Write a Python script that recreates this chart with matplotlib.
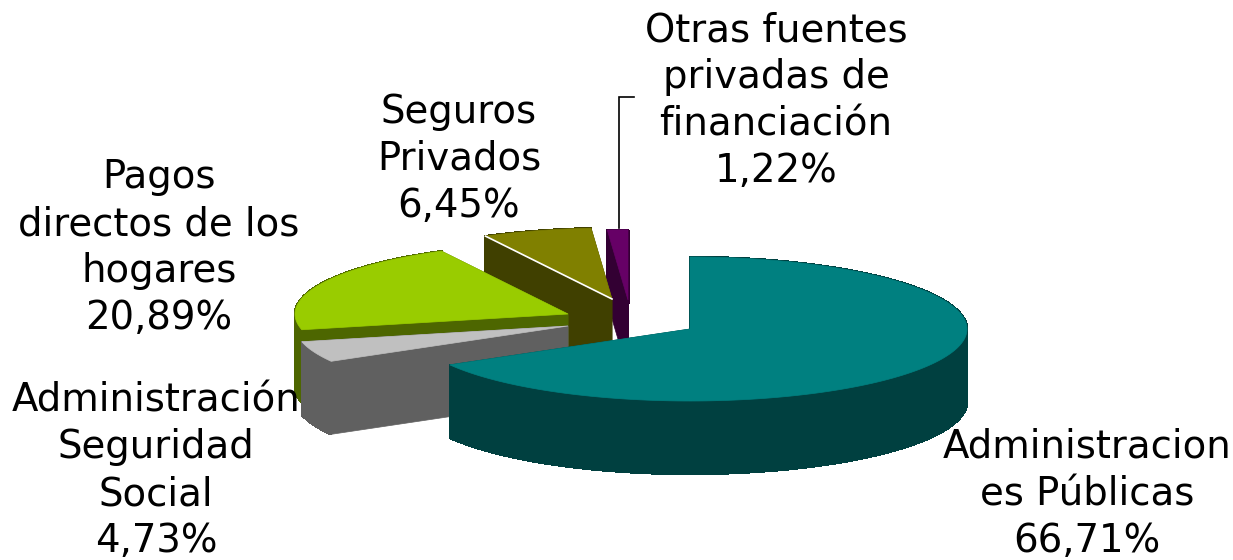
import numpy as np
import matplotlib
matplotlib.use('Agg')
import matplotlib.pyplot as plt
from matplotlib.collections import PolyCollection
from matplotlib.patches import Polygon

# slices in clockwise order from the top of the pie
shares = [66.71, 4.73, 20.89, 6.45, 1.22]
label_lines = [
    ['Administracion', 'es Públicas', '66,71%'],
    ['Administración', 'Seguridad', 'Social', '4,73%'],
    ['Pagos', 'directos de los', 'hogares', '20,89%'],
    ['Seguros', 'Privados', '6,45%'],
    ['Otras fuentes', 'privadas de', 'financiación', '1,22%'],
]

top_colors = ['#008080', '#c0c0c0', '#99cc00', '#808000', '#660066']
side_colors = ['#004040', '#606060', '#4d6600', '#404000', '#330033']
tips = [(690, 329), (568, 326), (568, 314), (612, 299), (628, 300)]
radii = [277, 273, 273, 273, 270]
label_x = [1087, 156, 159, 459, 776]
label_y = [447, 400, 177, 112, 30]

RY_RATIO = 72 / 277
DEPTH = 73
LINE_H = 47


def rim(tip, rx, a0, a1):
    t = np.radians(np.linspace(a0, a1, 160))
    return np.column_stack((tip[0] + rx * np.cos(t), tip[1] - rx * RY_RATIO * np.sin(t)))


fig = plt.figure(figsize=(12.33, 5.6), dpi=100)
ax = fig.add_axes([0, 0, 1, 1])
ax.set_xlim(0, 1233)
ax.set_ylim(560, 0)
ax.axis('off')

# start angle of each slice, math convention, going clockwise from 90
ends = 90 - 3.6 * np.cumsum(shares)
starts = np.concatenate(([90], ends[:-1]))

# back slices first so the front ones cover them
for i in [4, 3, 2, 1, 0]:
    tip = np.array(tips[i], dtype=float)
    arc = rim(tip, radii[i], starts[i], ends[i])
    z = 10 - 2 * i

    # cut faces
    for edge in (arc[0], arc[-1]):
        face = np.array([tip, edge, edge + [0, DEPTH], tip + [0, DEPTH]])
        ax.add_patch(Polygon(face, closed=True, fc=side_colors[i], ec=side_colors[i],
                             lw=0.5, zorder=z))
    # outer wall, one quad per arc step so it doesn't twist at the sides
    quads = [[arc[k], arc[k + 1], arc[k + 1] + [0, DEPTH], arc[k] + [0, DEPTH]]
             for k in range(len(arc) - 1)]
    ax.add_collection(PolyCollection(quads, facecolors=side_colors[i], edgecolors=side_colors[i],
                                     linewidths=1, antialiaseds=False, zorder=z))
    # top
    top = np.vstack(([tip], arc))
    ax.add_patch(Polygon(top, closed=True, fc=top_colors[i], ec=top_colors[i],
                         lw=0.5, zorder=z + 0.5))

# white sliver along the cut edge of the Seguros slice
seg_left = rim(np.array(tips[3], dtype=float), radii[3], starts[3], starts[3])[0]
ax.plot([seg_left[0], tips[3][0]], [seg_left[1], tips[3][1]], color='white', lw=1.2, zorder=4.6)

# leader line for the smallest slice
ax.plot([634, 618.5, 618.5], [96.5, 96.5, 228], color='black', lw=1.2, zorder=12,
        solid_joinstyle='miter')

for lines, x, y in zip(label_lines, label_x, label_y):
    for k, line in enumerate(lines):
        ax.text(x, y + k * LINE_H, line, ha='center', va='center', fontsize=27.8,
                family='DejaVu Sans', color='black', zorder=20)

plt.savefig('out.png', dpi=100)
